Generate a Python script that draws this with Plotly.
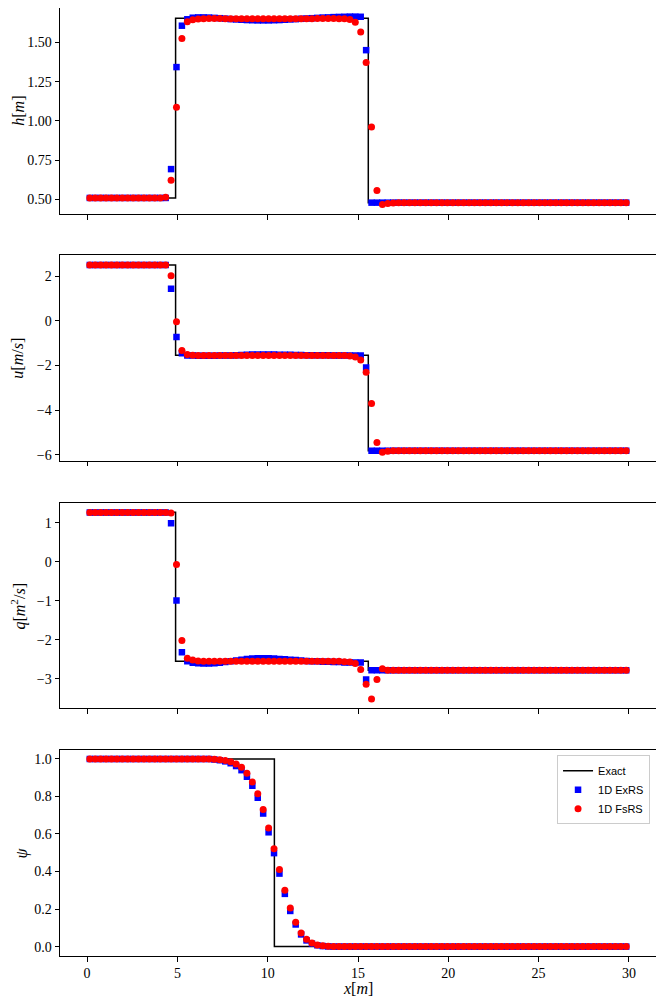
import numpy as np
import plotly.graph_objects as go

# cell centres, 100 cells over 30 m
x_cells = np.round(0.15 + 0.3 * np.arange(100), 2)

# exact solution (step profiles)
x_exact = [0, 4.9, 4.9, 15.57, 15.57, 30]
h_exact = [0.508, 0.508, 1.655, 1.655, 0.478, 0.478]
u_exact = [2.5, 2.5, -1.54, -1.54, -5.82, -5.82]
q_exact = [1.27, 1.27, -2.55, -2.55, -2.78, -2.78]
x_exact_psi = [0, 10.37, 10.37, 30]
psi_exact = [1.0, 1.0, 0.0, 0.0]

h_exrs = [
    0.508, 0.508, 0.508, 0.508, 0.508, 0.508, 0.508, 0.508, 0.508, 0.508,
    0.508, 0.508, 0.508, 0.508, 0.508, 0.692, 1.343, 1.607, 1.648, 1.658,
    1.660, 1.660, 1.659, 1.657, 1.655, 1.652, 1.649, 1.647, 1.645, 1.643,
    1.642, 1.641, 1.641, 1.641, 1.642, 1.643, 1.645, 1.647, 1.649, 1.651,
    1.653, 1.655, 1.657, 1.659, 1.660, 1.662, 1.663, 1.664, 1.665, 1.665,
    1.664, 1.451, 0.478, 0.478, 0.478, 0.478, 0.478, 0.478, 0.478, 0.478,
    0.478, 0.478, 0.478, 0.478, 0.478, 0.478, 0.478, 0.478, 0.478, 0.478,
    0.478, 0.478, 0.478, 0.478, 0.478, 0.478, 0.478, 0.478, 0.478, 0.478,
    0.478, 0.478, 0.478, 0.478, 0.478, 0.478, 0.478, 0.478, 0.478, 0.478,
    0.478, 0.478, 0.478, 0.478, 0.478, 0.478, 0.478, 0.478, 0.478, 0.478,
]
h_fsrs = [
    0.508, 0.508, 0.508, 0.508, 0.508, 0.508, 0.508, 0.508, 0.508, 0.508,
    0.508, 0.508, 0.508, 0.508, 0.513, 0.621, 1.087, 1.526, 1.632, 1.645,
    1.650, 1.652, 1.653, 1.653, 1.653, 1.652, 1.652, 1.652, 1.651, 1.651,
    1.651, 1.651, 1.651, 1.651, 1.651, 1.651, 1.651, 1.652, 1.652, 1.652,
    1.652, 1.652, 1.653, 1.653, 1.653, 1.653, 1.652, 1.651, 1.646, 1.629,
    1.567, 1.372, 0.960, 0.555, 0.466, 0.473, 0.476, 0.478, 0.478, 0.478,
    0.478, 0.478, 0.478, 0.478, 0.478, 0.478, 0.478, 0.478, 0.478, 0.478,
    0.478, 0.478, 0.478, 0.478, 0.478, 0.478, 0.478, 0.478, 0.478, 0.478,
    0.478, 0.478, 0.478, 0.478, 0.478, 0.478, 0.478, 0.478, 0.478, 0.478,
    0.478, 0.478, 0.478, 0.478, 0.478, 0.478, 0.478, 0.478, 0.478, 0.478,
]

u_exrs = [
    2.50, 2.50, 2.50, 2.50, 2.50, 2.50, 2.50, 2.50, 2.50, 2.50,
    2.50, 2.50, 2.50, 2.50, 2.50, 1.43, -0.73, -1.46, -1.55, -1.56,
    -1.57, -1.57, -1.57, -1.57, -1.56, -1.56, -1.55, -1.54, -1.53, -1.52,
    -1.51, -1.51, -1.51, -1.51, -1.51, -1.52, -1.52, -1.52, -1.53, -1.53,
    -1.54, -1.54, -1.54, -1.54, -1.54, -1.55, -1.55, -1.55, -1.55, -1.55,
    -1.55, -2.09, -5.82, -5.82, -5.82, -5.82, -5.82, -5.82, -5.82, -5.82,
    -5.82, -5.82, -5.82, -5.82, -5.82, -5.82, -5.82, -5.82, -5.82, -5.82,
    -5.82, -5.82, -5.82, -5.82, -5.82, -5.82, -5.82, -5.82, -5.82, -5.82,
    -5.82, -5.82, -5.82, -5.82, -5.82, -5.82, -5.82, -5.82, -5.82, -5.82,
    -5.82, -5.82, -5.82, -5.82, -5.82, -5.82, -5.82, -5.82, -5.82, -5.82,
]
u_fsrs = [
    2.50, 2.50, 2.50, 2.50, 2.50, 2.50, 2.50, 2.50, 2.50, 2.50,
    2.50, 2.50, 2.50, 2.50, 2.50, 2.015, -0.045, -1.33, -1.51, -1.54,
    -1.55, -1.55, -1.55, -1.55, -1.55, -1.55, -1.55, -1.55, -1.55, -1.55,
    -1.55, -1.55, -1.55, -1.55, -1.55, -1.55, -1.55, -1.55, -1.55, -1.55,
    -1.55, -1.55, -1.55, -1.55, -1.55, -1.55, -1.55, -1.56, -1.58, -1.62,
    -1.76, -2.30, -3.70, -5.45, -5.89, -5.84, -5.82, -5.82, -5.82, -5.82,
    -5.82, -5.82, -5.82, -5.82, -5.82, -5.82, -5.82, -5.82, -5.82, -5.82,
    -5.82, -5.82, -5.82, -5.82, -5.82, -5.82, -5.82, -5.82, -5.82, -5.82,
    -5.82, -5.82, -5.82, -5.82, -5.82, -5.82, -5.82, -5.82, -5.82, -5.82,
    -5.82, -5.82, -5.82, -5.82, -5.82, -5.82, -5.82, -5.82, -5.82, -5.82,
]

q_exrs = [
    1.26, 1.26, 1.26, 1.26, 1.26, 1.26, 1.26, 1.26, 1.26, 1.26,
    1.26, 1.26, 1.26, 1.26, 1.26, 0.99, -0.99, -2.32, -2.55, -2.59,
    -2.60, -2.61, -2.61, -2.60, -2.59, -2.57, -2.55, -2.53, -2.51, -2.49,
    -2.48, -2.47, -2.47, -2.47, -2.48, -2.49, -2.50, -2.51, -2.52, -2.53,
    -2.54, -2.55, -2.55, -2.56, -2.56, -2.57, -2.57, -2.58, -2.58, -2.58,
    -2.58, -3.02, -2.78, -2.78, -2.78, -2.78, -2.78, -2.78, -2.78, -2.78,
    -2.78, -2.78, -2.78, -2.78, -2.78, -2.78, -2.78, -2.78, -2.78, -2.78,
    -2.78, -2.78, -2.78, -2.78, -2.78, -2.78, -2.78, -2.78, -2.78, -2.78,
    -2.78, -2.78, -2.78, -2.78, -2.78, -2.78, -2.78, -2.78, -2.78, -2.78,
    -2.78, -2.78, -2.78, -2.78, -2.78, -2.78, -2.78, -2.78, -2.78, -2.78,
]
q_fsrs = [
    1.26, 1.26, 1.26, 1.26, 1.26, 1.26, 1.26, 1.26, 1.26, 1.26,
    1.26, 1.26, 1.26, 1.26, 1.26, 1.25, -0.07, -2.02, -2.47, -2.52,
    -2.54, -2.55, -2.55, -2.55, -2.55, -2.55, -2.55, -2.55, -2.55, -2.55,
    -2.55, -2.55, -2.55, -2.55, -2.55, -2.55, -2.55, -2.55, -2.55, -2.55,
    -2.55, -2.55, -2.55, -2.55, -2.55, -2.55, -2.55, -2.56, -2.57, -2.61,
    -2.76, -3.14, -3.52, -3.02, -2.74, -2.78, -2.78, -2.78, -2.78, -2.78,
    -2.78, -2.78, -2.78, -2.78, -2.78, -2.78, -2.78, -2.78, -2.78, -2.78,
    -2.78, -2.78, -2.78, -2.78, -2.78, -2.78, -2.78, -2.78, -2.78, -2.78,
    -2.78, -2.78, -2.78, -2.78, -2.78, -2.78, -2.78, -2.78, -2.78, -2.78,
    -2.78, -2.78, -2.78, -2.78, -2.78, -2.78, -2.78, -2.78, -2.78, -2.78,
]

psi_exrs = [
    1.0, 1.0, 1.0, 1.0, 1.0, 1.0, 1.0, 1.0, 1.0, 1.0,
    1.0, 1.0, 1.0, 1.0, 1.0, 1.0, 1.0, 1.0, 1.0, 1.0,
    1.0, 1.0, 1.0, 0.997, 0.993, 0.987, 0.977, 0.962, 0.940, 0.905,
    0.857, 0.793, 0.709, 0.609, 0.498, 0.389, 0.281, 0.190, 0.118, 0.065,
    0.033, 0.016, 0.007, 0.003, 0.001, 0.0, 0.0, 0.0, 0.0, 0.0,
    0.0, 0.0, 0.0, 0.0, 0.0, 0.0, 0.0, 0.0, 0.0, 0.0,
    0.0, 0.0, 0.0, 0.0, 0.0, 0.0, 0.0, 0.0, 0.0, 0.0,
    0.0, 0.0, 0.0, 0.0, 0.0, 0.0, 0.0, 0.0, 0.0, 0.0,
    0.0, 0.0, 0.0, 0.0, 0.0, 0.0, 0.0, 0.0, 0.0, 0.0,
    0.0, 0.0, 0.0, 0.0, 0.0, 0.0, 0.0, 0.0, 0.0, 0.0,
]
psi_fsrs = [
    1.0, 1.0, 1.0, 1.0, 1.0, 1.0, 1.0, 1.0, 1.0, 1.0,
    1.0, 1.0, 1.0, 1.0, 1.0, 1.0, 1.0, 1.0, 1.0, 1.0,
    1.0, 1.0, 1.0, 0.998, 0.996, 0.992, 0.985, 0.973, 0.956, 0.924,
    0.877, 0.815, 0.731, 0.632, 0.521, 0.411, 0.300, 0.206, 0.130, 0.073,
    0.039, 0.019, 0.009, 0.004, 0.002, 0.001, 0.0, 0.0, 0.0, 0.0,
    0.0, 0.0, 0.0, 0.0, 0.0, 0.0, 0.0, 0.0, 0.0, 0.0,
    0.0, 0.0, 0.0, 0.0, 0.0, 0.0, 0.0, 0.0, 0.0, 0.0,
    0.0, 0.0, 0.0, 0.0, 0.0, 0.0, 0.0, 0.0, 0.0, 0.0,
    0.0, 0.0, 0.0, 0.0, 0.0, 0.0, 0.0, 0.0, 0.0, 0.0,
    0.0, 0.0, 0.0, 0.0, 0.0, 0.0, 0.0, 0.0, 0.0, 0.0,
]

x_ticks = [0, 5, 10, 15, 20, 25, 30]

panels = [
    # (exact x, exact y, ExRS, FsRS, y title, y range, y ticks, tick format)
    (x_exact, h_exact, h_exrs, h_fsrs, "<i>h</i>[<i>m</i>]", [0.405, 1.72],
     [0.5, 0.75, 1.0, 1.25, 1.5], ".2f"),
    (x_exact, u_exact, u_exrs, u_fsrs, "<i>u</i>[<i>m</i>/<i>s</i>]", [-6.27, 2.94],
     [-6, -4, -2, 0, 2], "d"),
    (x_exact, q_exact, q_exrs, q_fsrs, "<i>q</i>[<i>m</i><sup>2</sup>/<i>s</i>]", [-3.76, 1.51],
     [-3, -2, -1, 0, 1], "d"),
    (x_exact_psi, psi_exact, psi_exrs, psi_fsrs, "<i>ψ</i>", [-0.05, 1.05],
     [0.0, 0.2, 0.4, 0.6, 0.8, 1.0], ".1f"),
]

domains = [[0.7826, 1.0], [0.5223, 0.7394], [0.2611, 0.4780], [0.0, 0.2178]]
title_x = [-0.071, -0.071, -0.069, -0.064]

tick_font = dict(family="Liberation Serif", size=14, color="black")

fig = go.Figure()
annotations = []
for i, (xe, ye, ex, fs, ytitle, yr, yt, fmt) in enumerate(panels):
    n = "" if i == 0 else str(i + 1)
    last = i == len(panels) - 1
    fig.add_trace(go.Scatter(
        x=xe, y=ye, mode="lines", name="Exact",
        line=dict(color="black", width=1.5),
        xaxis="x" + n, yaxis="y" + n, showlegend=last))
    fig.add_trace(go.Scatter(
        x=x_cells, y=ex, mode="markers", name="1D ExRS",
        marker=dict(symbol="square", size=6.5, color="blue"),
        xaxis="x" + n, yaxis="y" + n, showlegend=last))
    fig.add_trace(go.Scatter(
        x=x_cells, y=fs, mode="markers", name="1D FsRS",
        marker=dict(symbol="circle", size=7, color="red"),
        xaxis="x" + n, yaxis="y" + n, showlegend=last))

    fig.layout["xaxis" + n] = dict(
        domain=[0, 1], anchor="y" + n, range=[-1.5, 31.5],
        tickvals=x_ticks, showticklabels=last,
        ticks="outside", ticklen=4.5, tickwidth=1, tickcolor="black",
        showline=True, mirror=True, linecolor="black", linewidth=1,
        showgrid=False, zeroline=False, tickfont=tick_font)
    fig.layout["yaxis" + n] = dict(
        domain=domains[i], anchor="x" + n, range=yr,
        tickvals=yt, tickformat=fmt,
        ticks="outside", ticklen=4.5, tickwidth=1, tickcolor="black",
        showline=True, mirror=True, linecolor="black", linewidth=1,
        showgrid=False, zeroline=False, tickfont=tick_font)

    annotations.append(dict(
        text=ytitle, textangle=-90, xref="paper", yref="paper",
        x=title_x[i], y=sum(domains[i]) / 2, xanchor="center", yanchor="middle",
        showarrow=False, font=dict(family="Liberation Serif", size=16, color="black")))

annotations.append(dict(
    text="<i>x</i>[<i>m</i>]", xref="paper", yref="paper", x=0.5, y=-0.034,
    xanchor="center", yanchor="middle", showarrow=False,
    font=dict(family="Liberation Serif", size=16, color="black")))

# the page body adds an 8px offset, so the figure is 8px smaller and margins shifted
fig.update_layout(
    width=656, height=996,
    margin=dict(l=52, r=8, t=0, b=48),
    paper_bgcolor="white", plot_bgcolor="white",
    annotations=annotations,
    legend=dict(
        x=0.99, y=0.2118, xanchor="right", yanchor="top",
        bgcolor="rgba(255,255,255,0.8)", bordercolor="#cccccc", borderwidth=1,
        font=dict(family="Liberation Sans", size=11, color="black"),
        tracegroupgap=0, itemwidth=30),
)

fig.write_html("out.html")
